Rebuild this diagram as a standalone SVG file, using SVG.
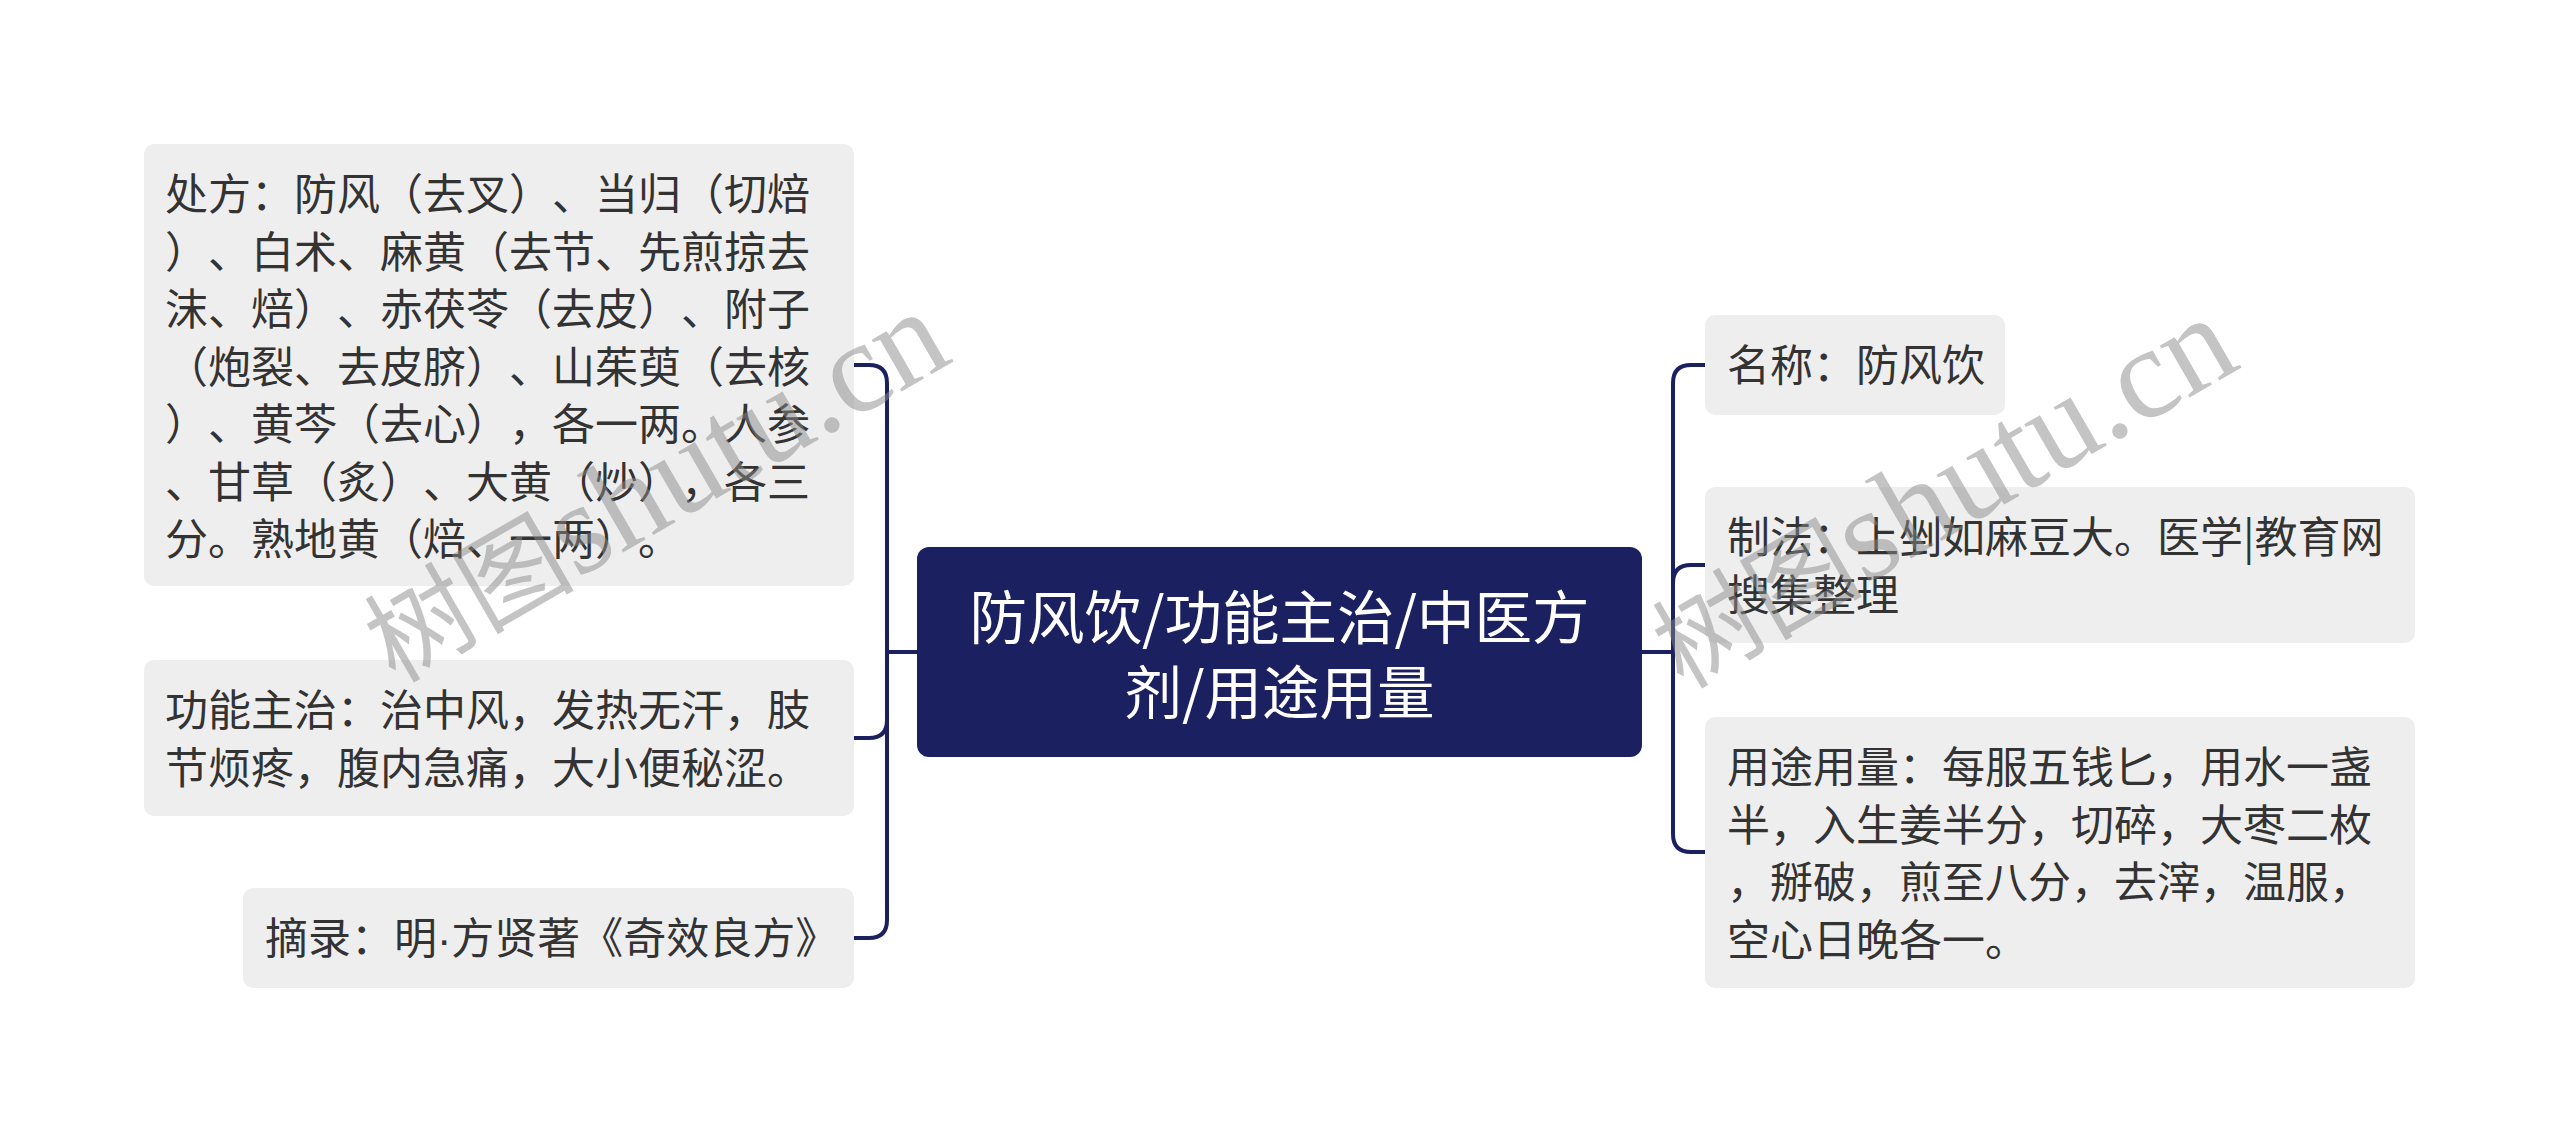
<svg xmlns="http://www.w3.org/2000/svg" width="2560" height="1132" viewBox="0 0 2560 1132">
<style>
.box{fill:#eeeeee;}
.root{fill:#1b2060;}
.t{font-family:"Noto Sans CJK SC","Noto Sans",sans-serif;font-size:43px;fill:#333333;text-spacing-trim:space-all;}
.dot{font-family:"Liberation Sans",sans-serif;}
.rt{font-family:"Noto Sans CJK SC","Noto Sans",sans-serif;font-size:57.5px;fill:#ffffff;text-anchor:middle;text-spacing-trim:space-all;}
.c{fill:none;stroke:#1b2060;stroke-width:4;stroke-linejoin:round;}
.wm{font-family:"Liberation Serif","Noto Sans CJK SC",serif;font-size:130px;fill:#8a8a8a;fill-opacity:0.5;}
.wmc{font-family:"Noto Sans CJK SC",serif;font-size:105px;}
</style>
<rect width="2560" height="1132" fill="#ffffff"/>
<g id="connectors">
<path class="c" d="M917,652 H887 V383 Q887,365 869,365 H854"/>
<path class="c" d="M917,652 H887 V720 Q887,738 869,738 H854"/>
<path class="c" d="M917,652 H887 V920 Q887,938 869,938 H854"/>
<path class="c" d="M1642,652 H1673 V383 Q1673,365 1691,365 H1705"/>
<path class="c" d="M1642,652 H1673 V583 Q1673,565 1691,565 H1705"/>
<path class="c" d="M1642,652 H1673 V834 Q1673,852 1691,852 H1705"/>
</g>
<g id="root">
<rect class="root" x="917" y="547" width="725" height="210" rx="12"/>
<text class="rt"><tspan x="1279.5" y="639">防风饮/功能主治/中医方</tspan><tspan x="1279.5" y="714">剂/用途用量</tspan></text>
</g>
<g id="chufang">
<rect class="box" x="144" y="144" width="710" height="442" rx="10"/>
<text class="t"><tspan x="165" y="210">处方：防风（去叉）、当归（切焙</tspan><tspan x="165" y="267.5">）、白术、麻黄（去节、先煎掠去</tspan><tspan x="165" y="325">沫、焙）、赤茯苓（去皮）、附子</tspan><tspan x="165" y="382.5">（炮裂、去皮脐）、山茱萸（去核</tspan><tspan x="165" y="440">）、黄芩（去心），各一两。人参</tspan><tspan x="165" y="497.5">、甘草（炙）、大黄（炒），各三</tspan><tspan x="165" y="555">分。熟地黄（焙、一两）。</tspan></text>
</g>
<g id="gongneng">
<rect class="box" x="144" y="660" width="710" height="156" rx="10"/>
<text class="t"><tspan x="165" y="726">功能主治：治中风，发热无汗，肢</tspan><tspan x="165" y="783.5">节烦疼，腹内急痛，大小便秘涩。</tspan></text>
</g>
<g id="zhailu">
<rect class="box" x="243" y="888" width="611" height="100" rx="10"/>
<text class="t" x="265" y="954">摘录：明<tspan class="dot">·</tspan>方贤著《奇效良方》</text>
</g>
<g id="mingcheng">
<rect class="box" x="1705" y="315" width="300" height="100" rx="10"/>
<text class="t" x="1727" y="381">名称：防风饮</text>
</g>
<g id="zhifa">
<rect class="box" x="1705" y="487" width="710" height="156" rx="10"/>
<text class="t"><tspan x="1727" y="553">制法：上剉如麻豆大。医学|教育网</tspan><tspan x="1727" y="610.5">搜集整理</tspan></text>
</g>
<g id="yongtu">
<rect class="box" x="1705" y="717" width="710" height="271" rx="10"/>
<text class="t"><tspan x="1727" y="783">用途用量：每服五钱匕，用水一盏</tspan><tspan x="1727" y="840.5">半，入生姜半分，切碎，大枣二枚</tspan><tspan x="1727" y="898">，掰破，煎至八分，去滓，温服，</tspan><tspan x="1727" y="955.5">空心日晚各一。</tspan></text>
</g>
<g id="watermarks">
<text class="wm" transform="translate(395,684) rotate(-30)"><tspan class="wmc">树图</tspan>shutu.cn</text>
<text class="wm" transform="translate(1683,690) rotate(-30)"><tspan class="wmc">树图</tspan>shutu.cn</text>
</g>
</svg>
